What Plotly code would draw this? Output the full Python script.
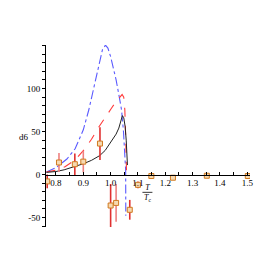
import plotly.graph_objects as go

# Model curves (T/Tc vs d6)
black_x = [0.765, 0.80, 0.83, 0.87, 0.90, 0.93, 0.96, 0.98, 1.00, 1.02, 1.03, 1.038, 1.043, 1.048, 1.053, 1.057, 1.060, 1.0615]
black_y = [2.5, 3.5, 5.5, 9, 12.5, 16.5, 22, 28, 37, 47, 54, 63, 68.5, 66, 56, 40, 22, 11]

red_x = [0.765, 0.80, 0.833, 0.87, 0.906, 0.93, 0.954, 0.98, 1.003, 1.02, 1.035, 1.042, 1.048, 1.052, 1.055, 1.057, 1.058]
red_y = [3, 5, 9, 17, 30, 41, 54, 67, 77, 85, 91, 93, 90, 75, 45, 15, 5]

blue_x = [0.765, 0.80, 0.84, 0.87, 0.90, 0.92, 0.94, 0.96, 0.97, 0.981, 0.99, 1.00, 1.01, 1.02, 1.03, 1.04, 1.047, 1.052, 1.055, 1.0555]
blue_y = [3, 8, 18, 30, 52, 75, 103, 133, 145, 150.5, 147, 137, 125, 110, 93, 75, 50, 25, 5, -48]

# Measured points
pts_dark_x = [0.768, 0.869, 0.961, 1.000, 1.070, 1.100, 1.149, 1.228, 1.352, 1.502]
pts_dark_y = [-8, 12, 36, -36, -41, -12, -1.7, -3.7, -1.4, -1.7]
pts_dark_err = [8, 12.5, 19, 25, 11.5, 4, 0, 0, 0, 0]

pts_light_x = [0.811, 0.900, 1.020]
pts_light_y = [14, 15, -33]
pts_light_err = [11, 12.5, 22]

x_ticks = [0.8, 0.9, 1.0, 1.1, 1.2, 1.3, 1.4, 1.5]
x_tick_text = ["0.8", "0.9", "1.0", "1.1", "1.2", "1.3", "1.4", "1.5"]
y_ticks = [-50, 0, 50, 100]
y_tick_text = ["-50", "0", "50", "100"]

XR = [0.7635, 1.51]
YR = [-61, 150.6]

fig = go.Figure()
fig.add_trace(go.Scatter(x=blue_x, y=blue_y, mode="lines",
                         line=dict(color="#5a5aff", width=1.1, dash="dashdot")))
fig.add_trace(go.Scatter(x=red_x, y=red_y, mode="lines",
                         line=dict(color="#ff3a3a", width=1.1, dash="dash")))
fig.add_trace(go.Scatter(x=black_x, y=black_y, mode="lines",
                         line=dict(color="#222222", width=1.0)))
fig.add_trace(go.Scatter(x=pts_light_x, y=pts_light_y, mode="markers",
                         marker=dict(symbol="square", size=5, color="#f6d9b0",
                                     line=dict(color="#d07a20", width=1)),
                         error_y=dict(type="data", array=pts_light_err, color="#ee8080",
                                      thickness=1.6, width=0)))
fig.add_trace(go.Scatter(x=pts_dark_x, y=pts_dark_y, mode="markers",
                         marker=dict(symbol="square", size=5, color="#f6d9b0",
                                     line=dict(color="#d07a20", width=1)),
                         error_y=dict(type="data", array=pts_dark_err, color="#e03030",
                                      thickness=1.6, width=0)))

zero_pos = (0 - YR[0]) / (YR[1] - YR[0])

fig.update_layout(
    width=273, height=273,
    margin=dict(l=38, r=30.5, t=37, b=54, pad=0),
    plot_bgcolor="white", paper_bgcolor="white",
    showlegend=False,
    font=dict(family="Liberation Serif", size=9, color="black"),
    xaxis=dict(range=XR, anchor="free", position=zero_pos, showline=True,
               linecolor="black", linewidth=1, showgrid=False, zeroline=False,
               tickvals=x_ticks, ticktext=x_tick_text, ticks="inside", ticklen=3,
               tickcolor="black",
               minor=dict(dtick=0.05, tick0=0.75, ticks="inside", ticklen=3, tickcolor="black"),
               tickfont=dict(family="Liberation Serif", size=9)),
    yaxis=dict(range=YR, showline=True, linecolor="black", linewidth=1,
               showgrid=False, zeroline=False,
               tickvals=y_ticks, ticktext=y_tick_text, ticks="outside", ticklen=3,
               tickcolor="black",
               minor=dict(dtick=10, ticks="outside", ticklen=3, tickcolor="black"),
               tickfont=dict(family="Liberation Serif", size=9)),
)

fig.add_annotation(text="d6", xref="paper", yref="y", x=-0.14, y=43.6,
                   showarrow=False, font=dict(family="Liberation Serif", size=9))
fig.add_annotation(text="<i>T</i><br><i>T</i><sub>c</sub>", xref="x", yref="y",
                   x=1.1346, y=-22, showarrow=False,
                   font=dict(family="Liberation Serif", size=8))
fig.add_shape(type="line", xref="x", yref="y", x0=1.1164, x1=1.1529, y0=-20.7, y1=-20.7,
              line=dict(color="black", width=0.8))

fig.write_html("out.html")
